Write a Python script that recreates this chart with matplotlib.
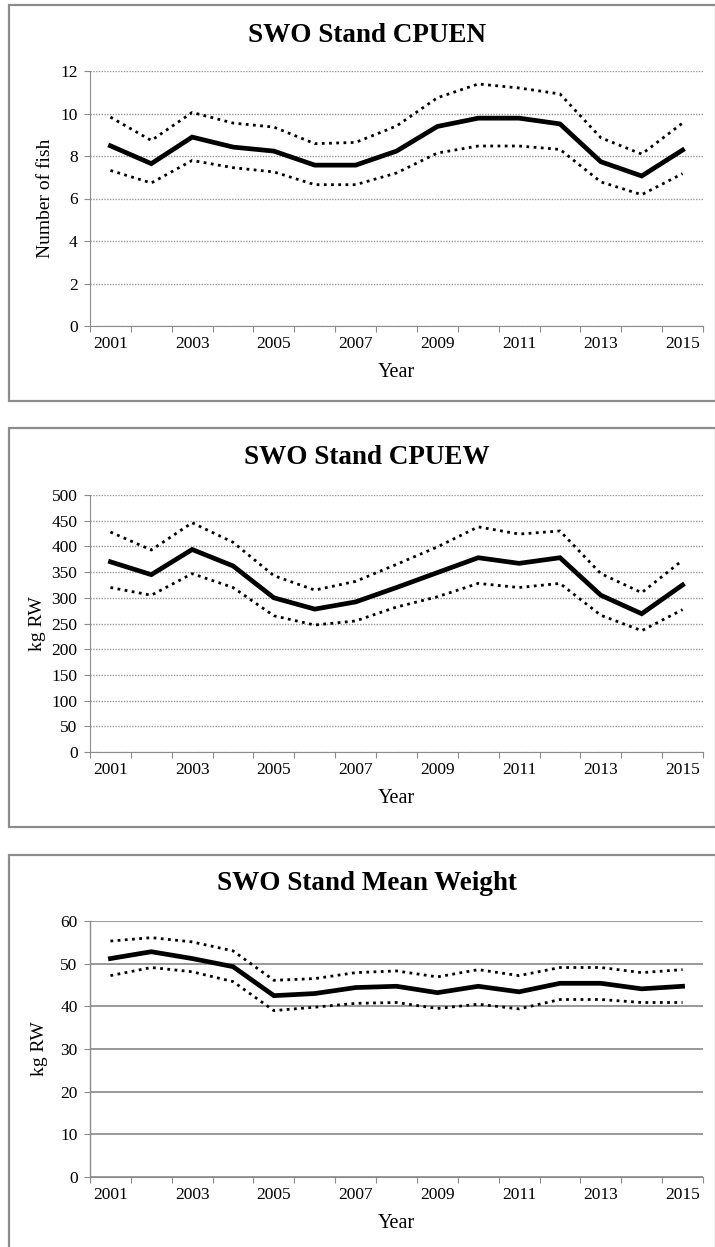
import matplotlib.pyplot as plt
from matplotlib.patches import Rectangle

years = list(range(2001, 2016))

cpuen_mean = [8.48, 7.64, 8.89, 8.42, 8.23, 7.57, 7.57, 8.23, 9.39, 9.78, 9.78, 9.51, 7.73, 7.06, 8.28]
cpuen_upper = [9.83, 8.73, 10.05, 9.55, 9.36, 8.58, 8.64, 9.41, 10.74, 11.39, 11.2, 10.92, 8.86, 8.09, 9.55]
cpuen_lower = [7.32, 6.73, 7.79, 7.45, 7.25, 6.65, 6.65, 7.2, 8.14, 8.47, 8.47, 8.31, 6.78, 6.18, 7.17]

cpuew_mean = [370, 345, 394, 362, 300, 278, 292, 320, 349, 378, 367, 378, 305, 269, 325]
cpuew_upper = [428, 393, 446, 408, 343, 315, 332, 365, 399, 438, 424, 430, 347, 310, 373]
cpuew_lower = [320, 305, 347, 320, 265, 247, 255, 282, 302, 328, 320, 328, 266, 236, 277]

mw_mean = [51.2, 52.8, 51.2, 49.3, 42.5, 43.0, 44.4, 44.7, 43.2, 44.7, 43.4, 45.4, 45.4, 44.1, 44.7]
mw_upper = [55.3, 56.1, 55.1, 53.0, 46.1, 46.5, 47.9, 48.3, 46.9, 48.6, 47.2, 49.1, 49.1, 47.9, 48.6]
mw_lower = [47.2, 49.1, 48.1, 45.8, 39.0, 39.8, 40.7, 40.9, 39.5, 40.5, 39.4, 41.6, 41.6, 40.9, 40.9]

panels = [
    ("SWO Stand CPUEN", "Number of fish", cpuen_mean, cpuen_upper, cpuen_lower, 12, 2, "dotted"),
    ("SWO Stand CPUEW", "kg RW", cpuew_mean, cpuew_upper, cpuew_lower, 500, 50, "dotted"),
    ("SWO Stand Mean Weight", "kg RW", mw_mean, mw_upper, mw_lower, 60, 10, "solid"),
]

plt.rcParams["font.family"] = ["Liberation Serif", "DejaVu Serif"]

W, H = 715, 1247
fig = plt.figure(figsize=(W / 100, H / 100), dpi=100)

# pixel layout: (axes top, axes bottom, box top, box bottom, title y, ylabel x)
layout = [
    (71, 326, 5, 401, 35, 45),
    (495, 752, 428, 827, 457, 37),
    (921, 1177, 855, 1252, 883, 40),
]
ax_left, ax_right = 90, 703
gray = "#8c8c8c"

for (title, ylab, mean, up, lo, ymax, step, gstyle), (atop, abot, btop, bbot, ty, ylx) in zip(panels, layout):
    fig.patches.append(Rectangle((9 / W, 1 - bbot / H), (716 - 9) / W, (bbot - btop) / H,
                                 transform=fig.transFigure, fill=False, edgecolor=gray, lw=1.6))
    ax = fig.add_axes([ax_left / W, 1 - abot / H, (ax_right - ax_left) / W, (abot - atop) / H])
    x = list(range(len(years)))
    ax.plot(x, up, color="black", lw=2, linestyle=(0, (1, 1.6)))
    ax.plot(x, lo, color="black", lw=2, linestyle=(0, (1, 1.6)))
    ax.plot(x, mean, color="black", lw=3.4, solid_joinstyle="miter")
    ax.set_xlim(-0.5, len(years) - 0.5)
    ax.set_ylim(0, ymax)
    ax.set_yticks(range(0, ymax + 1, step))
    # category boundaries carry the ticks, labels sit at every other category
    ax.set_xticks([i - 0.5 for i in range(len(years) + 1)])
    ax.set_xticklabels([])
    ax.set_xticks(x[::2], minor=True)
    ax.set_xticklabels([str(years[i]) for i in x[::2]], minor=True)
    ax.tick_params(axis="x", which="minor", length=0, labelsize=12.5, pad=7)
    ax.tick_params(axis="x", which="major", length=4, color=gray, direction="out")
    ax.tick_params(axis="y", length=4, color=gray, labelsize=12.5, pad=5)
    if gstyle == "dotted":
        ax.yaxis.grid(True, color="#999999", lw=1, linestyle=(0, (1, 1)))
    else:
        ax.yaxis.grid(True, color="#999999", lw=1.4, linestyle="-")
    ax.set_axisbelow(True)
    for s in ["top", "right"]:
        ax.spines[s].set_visible(False)
    ax.spines["bottom"].set_color(gray)
    ax.spines["left"].set_color(gray)
    if gstyle == "solid":
        ax.spines["left"].set_linestyle((0, (1, 1)))
        ax.spines["left"].set_linewidth(1)
    ax.set_xlabel("Year", fontsize=14.5, labelpad=8)
    fig.text(367 / W, 1 - ty / H, title, ha="center", va="center", fontsize=19.5, fontweight="bold")
    fig.text(ylx / W, 1 - (atop + abot) / 2 / H, ylab, ha="center", va="center", rotation=90, fontsize=14)

fig.savefig("out.png", dpi=100)
